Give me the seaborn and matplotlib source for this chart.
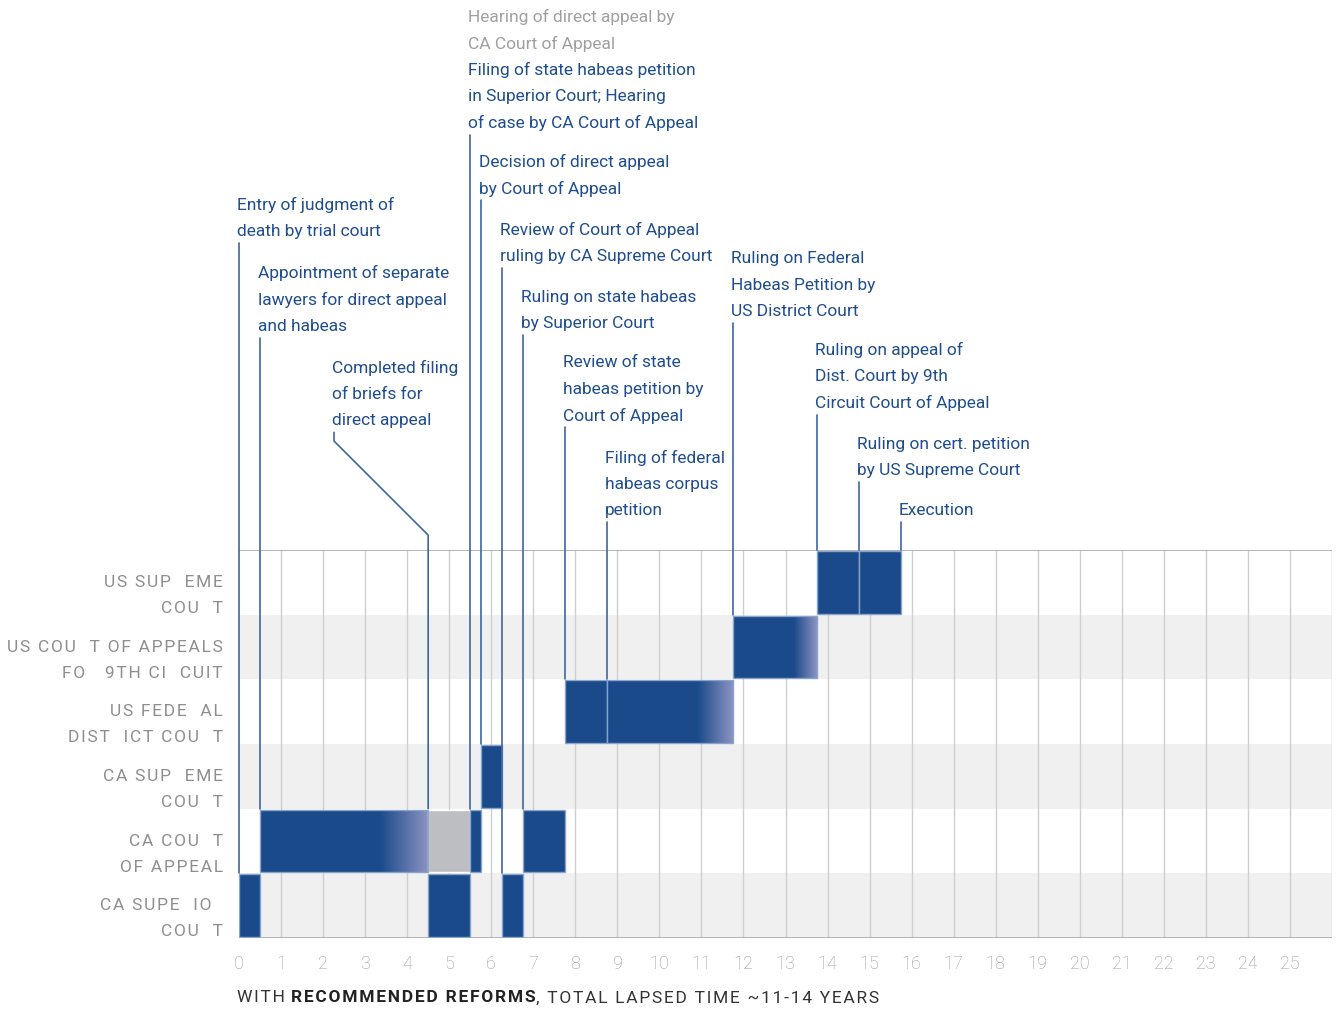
import numpy as np
import matplotlib as mpl
mpl.use('Agg')
import matplotlib.pyplot as plt
import seaborn as sns
from matplotlib.colors import LinearSegmentedColormap

# rows, bottom to top (the R glyph is missing in the original artwork)
court_line1 = ['CA SUPE  IO  ', 'CA COU  T', 'CA SUP  EME', 'US FEDE  AL', 'US COU  T OF APPEALS', 'US SUP  EME']
court_line2 = ['COU  T', 'OF APPEAL', 'COU  T', 'DIST  ICT COU  T', 'FO   9TH CI  CUIT', 'COU  T']

# time segments (years)
bar_row = [0, 0, 0, 1, 1, 1, 1, 2, 3, 3, 4, 5, 5]
bar_start = [0, 4.5, 6.25, 0.5, 4.5, 5.5, 6.75, 5.75, 7.75, 8.75, 11.75, 13.75, 14.75]
bar_end = [0.5, 5.5, 6.75, 4.5, 5.5, 5.75, 7.75, 6.25, 8.75, 11.75, 13.75, 14.75, 15.75]
bar_kind = ['solid', 'solid', 'solid', 'fade', 'grey', 'solid', 'solid', 'solid', 'solid', 'fade', 'fade', 'solid', 'solid']
fade_from = [None, None, None, 3.35, None, None, None, None, None, 10.9, 13.2, None, None]

# events
event_x = [0, 0.5, 4.5, 5.5, 5.75, 6.25, 6.75, 7.75, 8.75, 11.75, 13.75, 14.75, 15.75]
event_base = [1, 2, 2, 2, 3, 1, 2, 4, 4, 5, 6, 6, 6]
event_top = [10.75, 9.28, 7.82, 12.42, 11.41, 10.36, 9.32, 7.90, 6.43, 9.51, 8.09, 7.05, 6.43]
event_text = [
    'Entry of judgment of\ndeath by trial court',
    'Appointment of separate\nlawyers for direct appeal\nand habeas',
    'Completed filing\nof briefs for\ndirect appeal',
    'Filing of state habeas petition\nin Superior Court; Hearing\nof case by CA Court of Appeal',
    'Decision of direct appeal\nby Court of Appeal',
    'Review of Court of Appeal\nruling by CA Supreme Court',
    'Ruling on state habeas\nby Superior Court',
    'Review of state\nhabeas petition by\nCourt of Appeal',
    'Filing of federal\nhabeas corpus\npetition',
    'Ruling on Federal\nHabeas Petition by\nUS District Court',
    'Ruling on appeal of\nDist. Court by 9th\nCircuit Court of Appeal',
    'Ruling on cert. petition\nby US Supreme Court',
    'Execution',
]
event_note = ['', '', '', 'Hearing of direct appeal by\nCA Court of Appeal', '', '', '', '', '', '', '', '', '']
# bend of the leader for "Completed filing" (x of the upper part, y of the kinks)
bend_x, bend_low, bend_high = 2.26, 6.23, 7.685

xticks = list(range(0, 26))

BLUE = '#1a4a8a'
TEXT_BLUE = '#1f4d8e'
LINE_BLUE = '#3f66a0'
EDGE = '#88a4cc'
GREY_BAR = '#bdbec2'
BAND = '#f0f0f0'
GRID = '#cfcfcf'


def track(s, gap='\u200a'):
    # loose letter spacing like the original caps labels
    return gap.join(s)


sns.set_theme(style='white')
plt.rcParams['font.family'] = ['Roboto', 'DejaVu Sans']

W, H = 1337, 1009
fig = plt.figure(figsize=(W / 100, H / 100), dpi=100)
ax = fig.add_axes([239 / W, 71 / H, 1093 / W, 388 / H])
ax.set_xlim(0, 26)
ax.set_ylim(0, 6)
px_x = 26 / 1093
px_y = 6 / 388

# banded rows
for r in range(6):
    if r % 2 == 0:
        ax.axhspan(r, r + 1, color=BAND, lw=0, zorder=0)
ax.vlines(range(1, 27), 0, 6, color=GRID, lw=1, zorder=1)
ax.hlines([0, 6], 0, 26, color='#a8a8a8', lw=1.2, zorder=1)

fade_cmap = LinearSegmentedColormap.from_list('fade', [BLUE, '#8a91c0'])
bh = 0.97
for r, s, e, k, f in zip(bar_row, bar_start, bar_end, bar_kind, fade_from):
    if k == 'grey':
        ax.barh(r + 0.5, e - s, left=s, height=bh, color=GREY_BAR, edgecolor='white', lw=1, zorder=3)
    elif k == 'solid':
        ax.barh(r + 0.5, e - s, left=s, height=bh, color=BLUE, edgecolor=EDGE, lw=1, zorder=3)
    else:
        ax.barh(r + 0.5, f - s, left=s, height=bh, color=BLUE, lw=0, zorder=3)
        n = 60
        edges = np.linspace(f, e, n + 1)
        ax.barh([r + 0.5] * n, np.diff(edges), left=edges[:-1], height=bh,
                color=[fade_cmap(v) for v in np.linspace(0, 1, n)], lw=0, zorder=3)
        ax.barh(r + 0.5, e - s, left=s, height=bh, fill=False, edgecolor=EDGE, lw=1, zorder=4)

# leader lines and labels
fs = 12.5
step = 26.5 * px_y
for x, base, top, txt, note in zip(event_x, event_base, event_top, event_text, event_note):
    if x == 4.5:
        ax.plot([x, x, bend_x, bend_x], [base, bend_low, bend_high, top], color=LINE_BLUE, lw=1.2,
                clip_on=False, zorder=5)
        tx = bend_x
    else:
        ax.plot([x, x], [base, top], color=LINE_BLUE, lw=1.2, clip_on=False, zorder=5)
        tx = x
    lines = txt.split('\n')
    n = len(lines)
    for i, ln in enumerate(lines):
        y = top + 11.5 * px_y + (n - 1 - i) * step
        ax.text(tx - 2 * px_x, y, ln, color=TEXT_BLUE, fontsize=fs,
                ha='left', va='center', clip_on=False)
    if note:
        nl = note.split('\n')
        for i, ln in enumerate(nl):
            y = top + 11.5 * px_y + (n + len(nl) - 1 - i) * step
            ax.text(tx - 2 * px_x, y, ln, color='#a0a0a0', fontsize=fs,
                    ha='left', va='center', clip_on=False)

# row labels
for r in range(6):
    yc = r + 0.5
    ax.text(-16 * px_x, yc, track(court_line1[r]), color='#8e8e8e', fontsize=12.5,
            ha='right', va='center', clip_on=False)
    ax.text(-16 * px_x, yc - 26 * px_y, track(court_line2[r]), color='#8e8e8e', fontsize=12.5,
            ha='right', va='center', clip_on=False)

ax.set_yticks([])
ax.set_xticks(xticks)
ax.set_xticklabels([str(t) for t in xticks], color='#9c9c9c', fontsize=13, fontweight='light')
ax.tick_params(axis='x', length=0, pad=12)
for sp in ax.spines.values():
    sp.set_visible(False)
ax.grid(False)

# bottom caption with a bold middle part
t1 = fig.text(237 / W, 1 - 998 / H, track('WITH '), color='#333333', fontsize=12.5, va='center', ha='left')
t2 = ax.annotate(track('RECOMMENDED REFORMS'), xy=(1, 0), xycoords=t1, va='bottom', ha='left',
                 color='#222222', fontsize=12.5, fontweight='bold', annotation_clip=False)
ax.annotate(track(', TOTAL LAPSED TIME ~11-14 YEARS'), xy=(1, 0), xycoords=t2, va='bottom', ha='left',
            color='#333333', fontsize=12.5, annotation_clip=False)

fig.savefig('out.png', dpi=100)
